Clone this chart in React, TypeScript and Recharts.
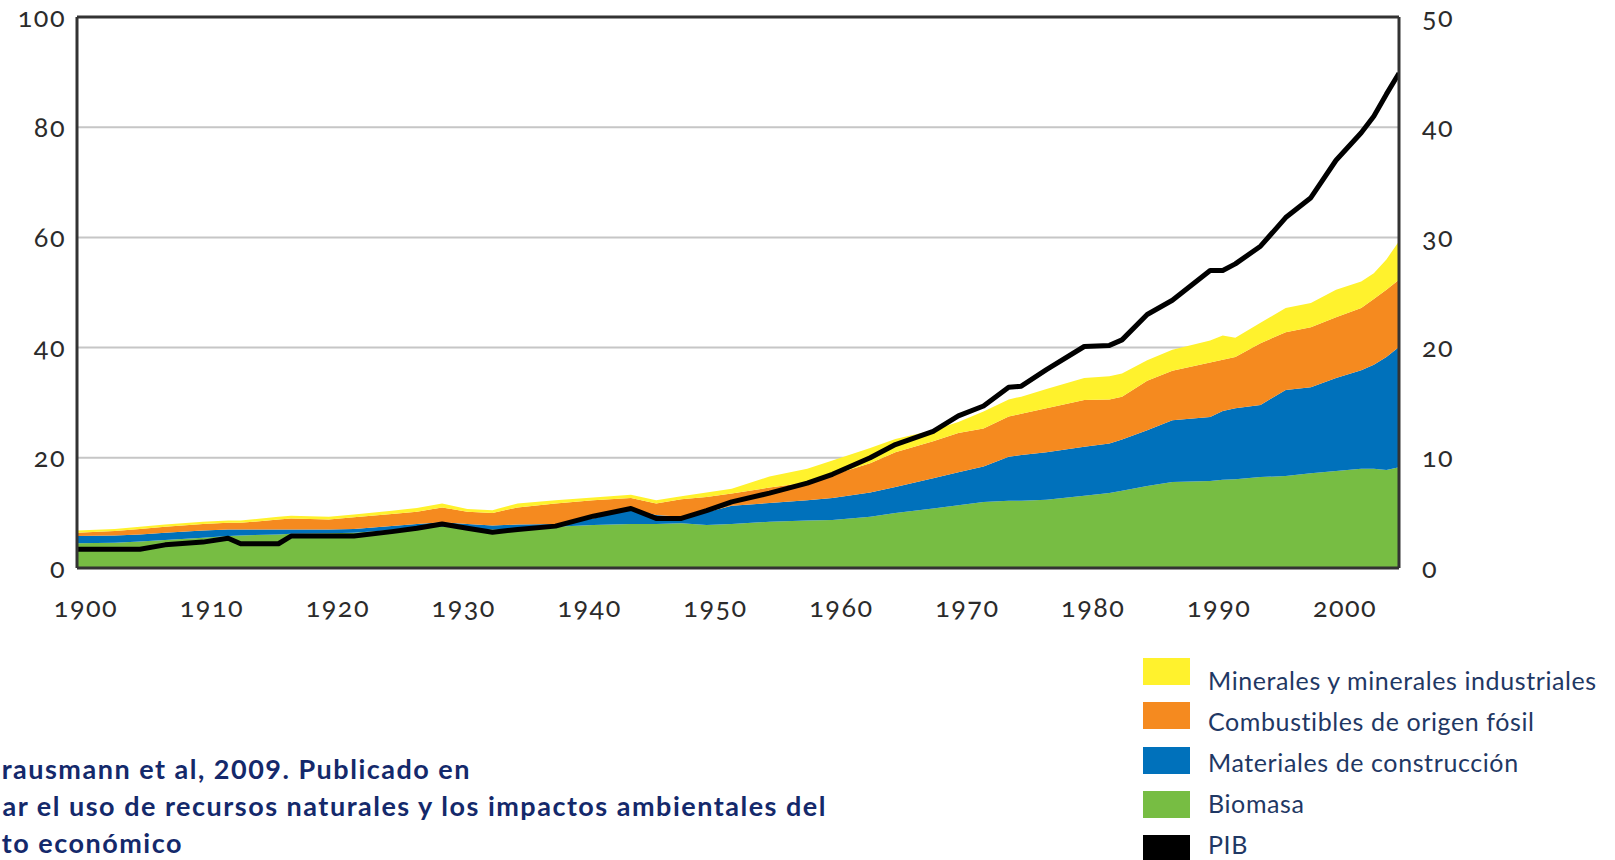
import React from 'react';
import { ComposedChart, Area, Line, XAxis, YAxis, CartesianGrid, ReferenceLine } from 'recharts';

// years (irregular steps where the curves bend)
const years = [
  1900, 1903, 1905, 1907, 1910, 1912, 1913, 1916, 1917, 1920, 1922, 1925, 1927, 1929, 1931, 1933, 1935,
  1938, 1941, 1944, 1946, 1948, 1950, 1952, 1955, 1958, 1960, 1963, 1965, 1968, 1970, 1972, 1974, 1975,
  1977, 1980, 1982, 1983, 1985, 1987, 1990, 1991, 1992, 1994, 1996, 1998, 2000, 2002, 2003, 2004, 2005,
];

const biomasa = [
  4.5, 4.6, 4.8, 5.1, 5.5, 5.8, 5.9, 6.1, 6.2, 6.3, 6.4, 6.9, 7.3, 7.5, 7.2, 7.0, 7.1,
  7.5, 7.8, 8.0, 8.0, 8.1, 7.8, 8.0, 8.4, 8.6, 8.7, 9.3, 10.0, 10.8, 11.4, 12.0, 12.2, 12.2,
  12.4, 13.1, 13.6, 14.0, 14.9, 15.6, 15.8, 16.0, 16.1, 16.5, 16.7, 17.2, 17.6, 18.0, 18.0, 17.8, 18.3,
];

const construccion = [
  1.3, 1.3, 1.3, 1.3, 1.3, 1.2, 1.1, 0.9, 0.8, 0.7, 0.7, 0.7, 0.7, 0.8, 0.8, 0.7, 0.8,
  0.5, 1.2, 2.7, 1.6, 1.2, 2.3, 3.3, 3.4, 3.7, 4.0, 4.4, 4.7, 5.5, 6.0, 6.4, 8.0, 8.3,
  8.6, 8.9, 9.0, 9.3, 10.1, 11.2, 11.6, 12.5, 12.9, 13.1, 15.6, 15.6, 16.9, 17.9, 18.9, 20.5, 21.8,
];

const fosil = [
  0.6, 0.8, 1.0, 1.1, 1.2, 1.2, 1.2, 1.8, 2.0, 1.8, 2.1, 2.2, 2.2, 2.7, 2.2, 2.3, 3.1,
  3.7, 3.3, 2.0, 2.1, 3.2, 2.8, 2.2, 2.8, 3.2, 4.2, 5.3, 6.3, 6.7, 7.1, 6.9, 7.3, 7.5,
  8.0, 8.5, 8.0, 7.8, 9.0, 9.0, 9.9, 9.3, 9.3, 11.2, 10.5, 10.9, 11.0, 11.3, 11.9, 12.2, 12.2,
];

const minerales = [
  0.4, 0.4, 0.4, 0.4, 0.4, 0.4, 0.4, 0.5, 0.5, 0.5, 0.5, 0.6, 0.7, 0.7, 0.5, 0.5, 0.7,
  0.6, 0.5, 0.6, 0.6, 0.5, 0.8, 0.9, 2.0, 2.5, 2.6, 2.8, 2.4, 2.0, 2.0, 3.1, 3.1, 3.1,
  3.5, 4.0, 4.2, 4.2, 3.7, 3.8, 4.0, 4.4, 3.5, 3.7, 4.4, 4.4, 5.0, 4.8, 4.7, 5.5, 7.0,
];

// PIB, right axis
const pib = [
  1.7, 1.7, 1.7, 2.1, 2.35, 2.7, 2.2, 2.2, 2.9, 2.9, 2.9, 3.3, 3.6, 4.0, 3.6, 3.25, 3.5,
  3.8, 4.7, 5.4, 4.5, 4.5, 5.2, 6.0, 6.8, 7.7, 8.5, 10.0, 11.2, 12.4, 13.8, 14.7, 16.4, 16.5,
  18.0, 20.1, 20.2, 20.7, 23.0, 24.3, 27.0, 27.0, 27.6, 29.2, 31.8, 33.6, 37.0, 39.5, 41.0, 43.0, 44.9,
];

const xTicks = [1900, 1910, 1920, 1930, 1940, 1950, 1960, 1970, 1980, 1990, 2000];
const leftTicks = [0, 20, 40, 60, 80, 100];
const rightTicks = [0, 10, 20, 30, 40, 50];

const legendLabels = [
  'Minerales y minerales industriales',
  'Combustibles de origen fósil',
  'Materiales de construcción',
  'Biomasa',
  'PIB',
];
const legendColors = ['#fff22d', '#f58a1f', '#0071bb', '#77bd43', '#000000'];

const sourceLines = [
  'rausmann et al, 2009. Publicado en',
  'ar el uso de recursos naturales y los impactos ambientales del',
  'to económico',
];
const sourceRight = [471, 827, 183];

const data = years.map((year, i) => ({
  year,
  biomasa: biomasa[i],
  construccion: construccion[i],
  fosil: fosil[i],
  minerales: minerales[i],
  pib: pib[i],
}));

const tickStyle = {
  fill: '#2b2b2b',
  fontSize: 27,
  fontFamily: 'Lato, sans-serif',
  letterSpacing: 1.5,
  style: { fontVariantNumeric: 'oldstyle-nums', fontFeatureSettings: '"onum"' },
};

const App = () => {
  return (
    <div style={{ position: 'absolute', left: 0, top: 0, width: 1615, height: 860, overflow: 'hidden', background: '#fff', fontFamily: 'Lato, sans-serif' }}>
      <ComposedChart width={1615} height={640} data={data} margin={{ top: 17, right: 0, bottom: 20, left: 0 }}>
        <CartesianGrid yAxisId="left" vertical={false} stroke="#c6c6c6" strokeWidth={2} />
        <XAxis
          dataKey="year"
          type="number"
          domain={[1900, 2005]}
          ticks={xTicks}
          height={52}
          tickSize={0}
          tickMargin={30}
          tick={{ ...tickStyle, dx: 9 }}
          axisLine={{ stroke: '#333', strokeWidth: 3 }}
          allowDataOverflow
        />
        <YAxis
          yAxisId="left"
          domain={[0, 100]}
          ticks={leftTicks}
          width={77}
          tickSize={0}
          tickMargin={11}
          tick={tickStyle}
          axisLine={{ stroke: '#333', strokeWidth: 3 }}
        />
        <YAxis
          yAxisId="right"
          orientation="right"
          domain={[0, 50]}
          ticks={rightTicks}
          width={216}
          tickSize={0}
          tickMargin={23}
          tick={tickStyle}
          axisLine={{ stroke: '#333', strokeWidth: 3 }}
        />
        <Area yAxisId="left" type="linear" dataKey="biomasa" stackId="a" fill="#77bd43" stroke="none" fillOpacity={1} isAnimationActive={false} />
        <Area yAxisId="left" type="linear" dataKey="construccion" stackId="a" fill="#0071bb" stroke="none" fillOpacity={1} isAnimationActive={false} />
        <Area yAxisId="left" type="linear" dataKey="fosil" stackId="a" fill="#f58a1f" stroke="none" fillOpacity={1} isAnimationActive={false} />
        <Area yAxisId="left" type="linear" dataKey="minerales" stackId="a" fill="#fff22d" stroke="none" fillOpacity={1} isAnimationActive={false} />
        <Line yAxisId="right" type="linear" dataKey="pib" stroke="#000" strokeWidth={5} dot={false} strokeLinejoin="round" isAnimationActive={false} />
        <ReferenceLine yAxisId="left" y={100} stroke="#333" strokeWidth={3} />
      </ComposedChart>

      {/* legend */}
      {legendLabels.map((label, i) => (
        <React.Fragment key={label}>
          <div style={{ position: 'absolute', left: 1143, top: 658 + i * 44.3, width: 47, height: 27, background: legendColors[i] }} />
          <div style={{ position: 'absolute', left: 1208, top: 672 + i * 41, fontSize: 25, lineHeight: '16px', letterSpacing: 0.6, color: '#1f3864', whiteSpace: 'nowrap' }}>
            {label}
          </div>
        </React.Fragment>
      ))}

      {/* source note */}
      {sourceLines.map((line, i) => (
        <div
          key={line}
          style={{
            position: 'absolute',
            right: 1615 - sourceRight[i],
            top: 759 + i * 37,
            fontSize: 27,
            lineHeight: '20px',
            letterSpacing: 1.5,
            fontWeight: 700,
            color: '#14296b',
            whiteSpace: 'nowrap',
          }}
        >
          {line}
        </div>
      ))}
    </div>
  );
};

export default App;
